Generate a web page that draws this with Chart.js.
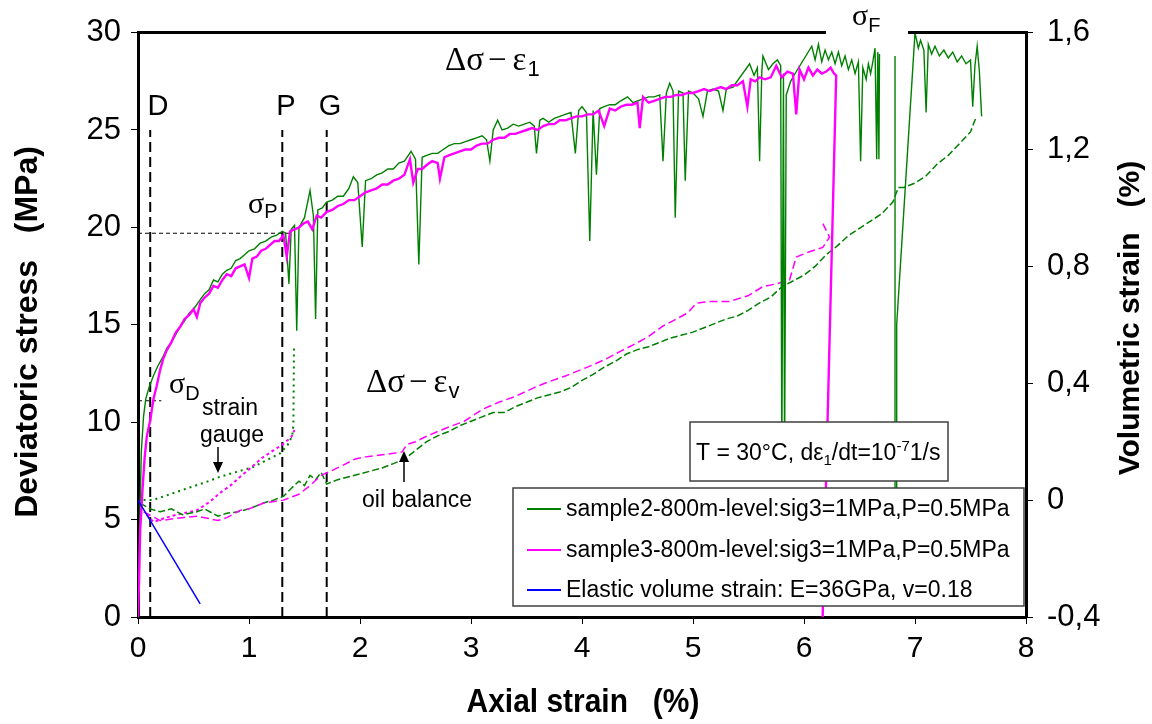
<!DOCTYPE html>
<html>
<head>
<meta charset="utf-8">
<script src="https://cdn.jsdelivr.net/npm/chart.js@4.4.1/dist/chart.umd.min.js"></script>
<style>
  html, body { margin: 0; padding: 0; background: #fff; }
  canvas { display: block; }
</style>
</head>
<body>
<canvas id="chart" width="1152" height="724"></canvas>
<script>
// axial strain (%) / deviatoric stress (MPa)
const sample2Stress = [
  [0,0],[0.01,3],[0.02,6],[0.03,8.5],[0.05,10.3],[0.07,11.2],[0.1,11.8],[0.14,12.4],[0.18,12.9],[0.22,13.3],
  [0.26,13.8],[0.3,14.1],[0.34,14.5],[0.38,14.9],[0.42,15.2],[0.46,15.6],[0.5,15.8],[0.55,16.2],[0.6,16.6],
  [0.64,16.8],[0.68,17.3],[0.72,17.2],[0.76,17.6],[0.8,17.8],[0.84,17.9],[0.88,18.3],[0.92,18.4],[0.96,18.6],
  [1.0,18.8],[1.05,18.9],[1.1,19.2],[1.15,19.3],[1.2,19.5],[1.25,19.6],[1.3,19.8],[1.33,19.7],[1.36,17.1],
  [1.38,19.9],[1.41,20.1],[1.43,14.7],[1.45,20.0],[1.5,20.5],[1.55,21.9],[1.58,20.6],[1.6,15.3],[1.62,20.9],
  [1.66,21.0],[1.7,21.3],[1.75,21.4],[1.8,21.6],[1.85,21.6],[1.9,22.0],[1.94,22.6],[1.98,22.3],[2.02,19.0],
  [2.05,22.4],[2.1,22.5],[2.15,22.7],[2.2,22.8],[2.25,23.0],[2.3,23.0],[2.35,23.3],[2.4,23.4],[2.46,23.9],
  [2.5,23.5],[2.53,18.1],[2.56,23.6],[2.6,23.7],[2.65,23.8],[2.7,23.8],[2.75,24.0],[2.8,24.2],[2.85,24.3],
  [2.9,24.3],[2.95,24.4],[3.0,24.5],[3.05,24.6],[3.1,24.7],[3.14,24.5],[3.17,23.4],[3.2,25.0],[3.24,25.5],
  [3.28,25.0],[3.33,25.1],[3.38,25.3],[3.43,25.2],[3.48,25.3],[3.53,25.4],[3.57,25.2],[3.59,23.8],[3.62,25.5],
  [3.65,25.6],[3.7,25.4],[3.75,25.6],[3.8,25.7],[3.85,25.8],[3.9,25.9],[3.94,23.8],[3.97,26.0],[4.0,26.2],
  [4.04,25.9],[4.07,19.3],[4.1,26.0],[4.13,22.7],[4.16,26.1],[4.2,26.2],[4.25,26.3],[4.3,26.3],[4.35,26.5],
  [4.41,26.7],[4.46,26.4],[4.5,26.5],[4.55,26.6],[4.6,26.7],[4.65,26.7],[4.7,26.8],[4.73,23.4],[4.76,26.9],
  [4.79,27.4],[4.82,27.0],[4.84,20.5],[4.87,27.0],[4.91,26.9],[4.93,22.4],[4.96,27.0],[5.0,26.9],[5.05,26.6],
  [5.09,25.7],[5.13,27.0],[5.18,27.1],[5.23,27.0],[5.27,26.0],[5.3,27.1],[5.36,27.2],[5.51,28.4],[5.55,27.8],
  [5.58,28.2],[5.6,23.4],[5.62,28.0],[5.63,28.8],[5.68,28.1],[5.72,28.4],[5.76,28.6],[5.79,28.3],[5.8,8.0],
  [5.815,27.9],[5.825,8.0],[5.84,26.8],[5.88,27.5],[5.92,27.9],[6.07,29.3],[6.1,28.6],[6.13,29.4],[6.16,28.5],
  [6.19,29.1],[6.22,28.6],[6.25,29.0],[6.28,28.4],[6.31,29.0],[6.34,28.3],[6.37,28.8],[6.4,28.1],[6.43,28.6],
  [6.46,27.9],[6.49,28.5],[6.51,23.4],[6.53,28.2],[6.56,27.6],[6.58,28.4],[6.6,27.9],[6.62,28.5],[6.64,29.2],
  [6.655,23.5],[6.665,29.0],[6.675,23.5],[6.68,28.9],[6.7,null],[6.82,28.8],[6.82,3],[6.83,3],[6.835,15],
  [7.0,30.0],[7.03,29.2],[7.05,29.6],[7.08,29.1],[7.1,25.9],[7.12,29.4],[7.15,28.9],[7.18,29.3],[7.22,28.8],
  [7.26,29.1],[7.3,28.7],[7.34,29.0],[7.38,28.5],[7.42,28.8],[7.46,28.4],[7.5,28.6],[7.52,26.2],[7.54,28.3],
  [7.56,29.3],[7.58,28.0],[7.6,25.7]
];
const sample3Stress = [
  [0,0],[0.01,2],[0.02,4.5],[0.04,6.5],[0.06,8.2],[0.08,9.3],[0.11,10.1],[0.14,11.2],[0.17,11.9],[0.2,12.7],
  [0.23,13.3],[0.26,13.7],[0.3,14.1],[0.34,14.6],[0.38,14.9],[0.42,15.3],[0.46,15.5],[0.5,15.8],[0.53,15.4],
  [0.56,16.1],[0.6,16.4],[0.64,16.6],[0.68,17.0],[0.72,16.9],[0.76,17.3],[0.8,17.6],[0.84,17.5],[0.88,17.9],
  [0.92,18.0],[0.96,18.1],[1.0,17.4],[1.03,18.4],[1.07,18.5],[1.11,18.8],[1.15,18.9],[1.19,19.1],[1.23,19.3],
  [1.27,19.3],[1.31,19.6],[1.34,18.5],[1.37,19.8],[1.41,19.9],[1.45,20.0],[1.49,20.2],[1.53,20.3],[1.57,19.9],
  [1.61,20.6],[1.65,20.5],[1.7,20.8],[1.75,20.9],[1.8,21.1],[1.85,21.2],[1.9,21.4],[1.95,21.4],[2.0,21.6],
  [2.05,21.8],[2.1,21.9],[2.15,22.0],[2.2,22.2],[2.25,22.2],[2.3,22.4],[2.35,22.5],[2.4,22.7],[2.45,23.5],
  [2.48,22.3],[2.52,23.0],[2.56,23.0],[2.6,23.2],[2.65,23.4],[2.7,23.3],[2.72,22.5],[2.76,23.6],[2.8,23.7],
  [2.85,23.8],[2.9,23.9],[2.95,24.0],[3.0,24.0],[3.05,24.2],[3.1,24.3],[3.15,24.3],[3.2,24.5],[3.25,24.6],
  [3.3,24.6],[3.35,24.8],[3.4,24.8],[3.45,24.9],[3.5,25.0],[3.55,25.1],[3.6,25.0],[3.65,25.2],[3.7,25.3],
  [3.75,25.3],[3.8,25.5],[3.85,25.5],[3.9,25.6],[3.95,25.7],[4.0,25.7],[4.05,25.8],[4.1,25.8],[4.15,26.0],
  [4.2,25.2],[4.25,26.1],[4.3,26.0],[4.35,26.2],[4.4,26.3],[4.45,26.3],[4.5,26.4],[4.52,25.1],[4.55,26.7],
  [4.6,26.4],[4.65,26.5],[4.7,26.6],[4.75,26.7],[4.8,26.7],[4.85,26.8],[4.9,26.8],[4.95,26.9],[5.0,26.9],
  [5.05,27.0],[5.1,27.1],[5.15,27.0],[5.2,27.1],[5.25,27.2],[5.3,27.1],[5.35,27.3],[5.4,27.3],[5.45,27.5],
  [5.49,26.2],[5.52,27.6],[5.56,27.5],[5.6,27.7],[5.65,27.6],[5.7,27.7],[5.75,28.3],[5.8,27.7],[5.85,28.0],
  [5.9,27.9],[5.93,25.8],[5.96,28.1],[6.0,27.6],[6.04,28.2],[6.08,27.8],[6.12,28.1],[6.16,27.9],[6.2,28.0],
  [6.24,28.2],[6.27,27.9],[6.29,27.8],[6.166,-0.5]
];
// axial strain (%) / volumetric strain (%)
const sample2OilBalance = [
  [0.02,-0.01],[0.11,-0.03],[0.2,-0.04],[0.3,-0.03],[0.4,-0.05],[0.53,-0.04],[0.6,-0.03],[0.72,-0.055],
  [0.8,-0.045],[0.9,-0.04],[1.0,-0.03],[1.13,-0.01],[1.22,0.0],[1.31,0.013],[1.38,0.04],[1.45,0.065],
  [1.5,0.05],[1.55,0.085],[1.6,0.07],[1.65,0.095],[1.7,0.055],[1.8,0.07],[1.9,0.08],[2.0,0.09],[2.1,0.1],
  [2.2,0.11],[2.3,0.125],[2.4,0.14],[2.5,0.17],[2.6,0.2],[2.7,0.22],[2.8,0.235],[2.9,0.255],[3.0,0.27],
  [3.1,0.285],[3.2,0.3],[3.3,0.3],[3.4,0.32],[3.5,0.335],[3.6,0.35],[3.7,0.36],[3.8,0.37],[3.9,0.385],
  [4.0,0.41],[4.1,0.43],[4.2,0.455],[4.3,0.475],[4.4,0.5],[4.5,0.515],[4.6,0.525],[4.7,0.54],[4.8,0.555],
  [4.9,0.565],[5.0,0.575],[5.1,0.59],[5.2,0.605],[5.3,0.62],[5.4,0.63],[5.5,0.65],[5.6,0.675],[5.7,0.695],
  [5.8,0.73],[5.9,0.75],[6.0,0.77],[6.1,0.8],[6.2,0.84],[6.3,0.87],[6.4,0.905],[6.5,0.93],[6.6,0.955],
  [6.7,0.98],[6.8,1.02],[6.85,1.07],[6.9,1.07],[7.0,1.085],[7.1,1.11],[7.2,1.15],[7.3,1.18],[7.4,1.22],
  [7.5,1.26],[7.55,1.31]
];
const sample3OilBalance = [
  [0.05,-0.04],[0.1,-0.05],[0.2,-0.07],[0.3,-0.065],[0.4,-0.06],[0.53,-0.055],[0.6,-0.06],[0.72,-0.07],
  [0.8,-0.06],[0.92,-0.035],[1.0,-0.03],[1.13,-0.01],[1.31,0.0],[1.45,0.02],[1.55,0.05],[1.65,0.085],
  [1.74,0.1],[1.85,0.12],[1.95,0.14],[2.05,0.148],[2.2,0.155],[2.3,0.16],[2.38,0.165],[2.42,0.19],[2.5,0.2],
  [2.58,0.215],[2.7,0.235],[2.8,0.25],[2.94,0.27],[3.1,0.31],[3.25,0.335],[3.4,0.355],[3.57,0.385],
  [3.7,0.405],[3.85,0.425],[4.06,0.457],[4.2,0.48],[4.35,0.51],[4.49,0.537],[4.6,0.56],[4.73,0.596],
  [4.85,0.62],[4.95,0.64],[5.03,0.674],[5.15,0.68],[5.33,0.68],[5.5,0.7],[5.63,0.731],[5.75,0.74],
  [5.87,0.754],[5.93,0.832],[6.05,0.85],[6.17,0.865],[6.23,0.9],[6.17,0.946]
];
const sample2Gauge = [
  [0.05,0.0],[0.13,0.0],[0.25,0.015],[0.44,0.04],[0.6,0.06],[0.74,0.08],[0.9,0.098],[1.03,0.112],
  [1.15,0.135],[1.28,0.16],[1.35,0.19],[1.39,0.22],[1.4,0.26],[1.405,0.52]
];
const sample3Gauge = [
  [0.08,-0.05],[0.14,-0.075],[0.25,-0.06],[0.35,-0.05],[0.53,-0.035],[0.65,-0.005],[0.74,0.025],
  [0.85,0.055],[0.92,0.08],[1.03,0.115],[1.12,0.145],[1.22,0.17],[1.3,0.19],[1.38,0.215],[1.41,0.24]
];
const elasticVolume = [[0,0],[0.56,-0.355]];

// characteristic points
const markerNames = ['D', 'P', 'G'];
const markerStrain = [0.11, 1.3, 1.7];
const markerTop = 25;
const sigmaPLevel = [[0,19.7],[1.37,19.7]];
const sigmaDLevel = [[0,11.1],[0.21,11.1]];

const legendLabels = [
  'sample2-800m-level:sig3=1MPa,P=0.5MPa',
  'sample3-800m-level:sig3=1MPa,P=0.5MPa',
  'Elastic volume strain: E=36GPa, v=0.18'
];

const xTicks = [0, 1, 2, 3, 4, 5, 6, 7, 8];
const stressTicks = [0, 5, 10, 15, 20, 25, 30];
const volTicks = [-0.4, 0, 0.4, 0.8, 1.2, 1.6];

const GREEN = '#008000';
const MAGENTA = '#ff00ff';
const BLUE = '#0000ff';
const SANS = '"Liberation Sans", Arial, sans-serif';
const SERIF = '"Liberation Serif", "Times New Roman", serif';

const pts = arr => arr.map(p => ({ x: p[0], y: p[1] }));

const line = (label, data, color, axis, extra) => Object.assign({
  label: label,
  data: pts(data),
  yAxisID: axis,
  borderColor: color,
  backgroundColor: color,
  borderWidth: 1.5,
  pointRadius: 0,
  showLine: true,
  fill: false,
  tension: 0,
  spanGaps: false
}, extra || {});

const datasets = [
  line(legendLabels[0], sample2Stress, GREEN, 'y', { borderWidth: 1.4, order: 3 }),
  line(legendLabels[1], sample3Stress, MAGENTA, 'y', { borderWidth: 2.4, order: 2 }),
  line(legendLabels[2], elasticVolume, BLUE, 'y2', { borderWidth: 1.5, order: 1 }),
  line('sample2 oil balance', sample2OilBalance, GREEN, 'y2', { borderDash: [7, 3], order: 5 }),
  line('sample3 oil balance', sample3OilBalance, MAGENTA, 'y2', { borderDash: [8, 4], order: 4 }),
  line('sample2 strain gauge', sample2Gauge, GREEN, 'y2', { borderDash: [2, 4], borderWidth: 2, order: 7 }),
  line('sample3 strain gauge', sample3Gauge, MAGENTA, 'y2', { borderDash: [3, 3], borderWidth: 2, order: 6 }),
  line('sigma P', sigmaPLevel, '#000', 'y', { borderDash: [4, 3], borderWidth: 1, order: 8 }),
  line('sigma D', sigmaDLevel, '#000', 'y', { borderDash: [4, 3], borderWidth: 1, order: 8 })
];
markerStrain.forEach((m, i) => {
  datasets.push(line(markerNames[i], [[m, 0], [m, markerTop]], '#000', 'y',
    { borderDash: [10, 5], borderWidth: 2, order: 9 }));
});

function drawRich(ctx, x, y, parts) {
  let cx = x;
  parts.forEach(p => {
    ctx.font = p.font;
    ctx.fillText(p.t, cx, y + (p.dy || 0));
    cx += ctx.measureText(p.t).width + (p.gap || 0);
  });
}

function arrow(ctx, x, y0, y1) {
  const dir = y1 > y0 ? 1 : -1;
  ctx.beginPath();
  ctx.moveTo(x, y0);
  ctx.lineTo(x, y1 - dir * 8);
  ctx.stroke();
  ctx.beginPath();
  ctx.moveTo(x, y1);
  ctx.lineTo(x - 5, y1 - dir * 11);
  ctx.lineTo(x + 5, y1 - dir * 11);
  ctx.closePath();
  ctx.fill();
}

const overlay = {
  id: 'overlay',
  afterDatasetsDraw(chart) {
    const ctx = chart.ctx;
    const a = chart.chartArea;
    ctx.save();
    ctx.fillStyle = '#000';
    ctx.textBaseline = 'alphabetic';

    // top frame with a gap for the failure label
    ctx.strokeStyle = '#000';
    ctx.lineWidth = 3;
    ctx.beginPath();
    ctx.moveTo(a.left - 1, a.top);
    ctx.lineTo(826, a.top);
    ctx.moveTo(908, a.top);
    ctx.lineTo(a.right + 1, a.top);
    ctx.stroke();

    // marker letters
    ctx.font = '29px ' + SANS;
    ctx.textAlign = 'center';
    const lx = [158, 286, 330];
    markerNames.forEach((n, i) => ctx.fillText(n, lx[i], 115));

    ctx.textAlign = 'left';
    drawRich(ctx, 445, 70, [
      { t: 'Δσ', font: '33px ' + SERIF, gap: 4 },
      { t: '−', font: '33px ' + SERIF, gap: 6 },
      { t: 'ε', font: '33px ' + SERIF, gap: 1 },
      { t: '1', font: '22px ' + SANS, dy: 6 }
    ]);
    drawRich(ctx, 366, 392, [
      { t: 'Δσ', font: '33px ' + SERIF, gap: 4 },
      { t: '−', font: '33px ' + SERIF, gap: 6 },
      { t: 'ε', font: '33px ' + SERIF, gap: 1 },
      { t: 'v', font: '22px ' + SANS, dy: 6 }
    ]);
    drawRich(ctx, 248, 213, [
      { t: 'σ', font: '30px ' + SERIF },
      { t: 'P', font: '20px ' + SANS, dy: 5 }
    ]);
    drawRich(ctx, 169, 393, [
      { t: 'σ', font: '30px ' + SERIF },
      { t: 'D', font: '20px ' + SANS, dy: 7 }
    ]);
    drawRich(ctx, 852, 25, [
      { t: 'σ', font: '30px ' + SERIF },
      { t: 'F', font: '20px ' + SANS, dy: 7 }
    ]);

    ctx.textAlign = 'center';
    ctx.font = '23px ' + SANS;
    ctx.fillText('strain', 230, 415);
    ctx.fillText('gauge', 232, 442);
    ctx.fillText('oil balance', 417, 507);

    ctx.lineWidth = 1.5;
    ctx.strokeStyle = '#000';
    arrow(ctx, 218, 447, 473);
    arrow(ctx, 404, 482, 451);

    // test condition box
    ctx.fillStyle = '#fff';
    ctx.fillRect(690, 422, 258, 59);
    ctx.strokeStyle = '#404040';
    ctx.lineWidth = 1.5;
    ctx.strokeRect(690, 422, 258, 59);
    ctx.fillStyle = '#000';
    ctx.textAlign = 'left';
    drawRich(ctx, 696, 460, [
      { t: 'T = 30°C, dε', font: '23px ' + SANS },
      { t: '1', font: '15px ' + SANS, dy: 5 },
      { t: '/dt=10', font: '23px ' + SANS },
      { t: '-7', font: '15px ' + SANS, dy: -9 },
      { t: '1/s', font: '23px ' + SANS }
    ]);

    // legend
    ctx.fillStyle = '#fff';
    ctx.fillRect(513, 488, 511, 118);
    ctx.strokeStyle = '#404040';
    ctx.strokeRect(513, 488, 511, 118);
    const rows = [509, 550, 590];
    chart.data.datasets.slice(0, 3).forEach((ds, i) => {
      ctx.strokeStyle = ds.borderColor;
      ctx.lineWidth = 2;
      ctx.beginPath();
      ctx.moveTo(527, rows[i]);
      ctx.lineTo(561, rows[i]);
      ctx.stroke();
      ctx.fillStyle = '#000';
      ctx.font = '23px ' + SANS;
      ctx.textBaseline = 'middle';
      ctx.fillText(ds.label, 566, rows[i] + 1);
    });
    ctx.textBaseline = 'alphabetic';

    // axis titles
    ctx.fillStyle = '#000';
    ctx.textAlign = 'center';
    ctx.textBaseline = 'middle';
    ctx.save();
    ctx.translate(583, 703);
    ctx.scale(0.88, 1);
    ctx.font = 'bold 34px ' + SANS;
    ctx.fillText('Axial strain   (%)', 0, 0);
    ctx.restore();
    ctx.font = 'bold 32px ' + SANS;
    ctx.save();
    ctx.translate(28, 332);
    ctx.rotate(-Math.PI / 2);
    ctx.fillText('Deviatoric stress   (MPa)', 0, 0);
    ctx.restore();
    ctx.font = 'bold 30px ' + SANS;
    ctx.save();
    ctx.translate(1131, 318);
    ctx.rotate(-Math.PI / 2);
    ctx.fillText('Volumetric strain   (%)', 0, 0);
    ctx.restore();

    ctx.restore();
  }
};

const axisGrid = { display: true, drawOnChartArea: false, drawTicks: true, tickLength: 7, color: '#000', lineWidth: 1 };
const axisBorder = { display: true, color: '#000', width: 3 };
const yTickFont = { family: SANS, size: 31 };
const xTickFont = { family: SANS, size: 30 };

new Chart(document.getElementById('chart'), {
  type: 'scatter',
  data: { datasets: datasets },
  options: {
    responsive: false,
    animation: false,
    events: [],
    layout: { padding: { top: 23, left: 0, right: 0, bottom: 0 } },
    plugins: { legend: { display: false }, tooltip: { enabled: false } },
    scales: {
      x: {
        type: 'linear', min: 0, max: 8,
        afterBuildTicks: s => { s.ticks = xTicks.map(v => ({ value: v })); },
        afterFit: s => { s.height = 107; },
        grid: axisGrid, border: axisBorder,
        ticks: { color: '#000', font: xTickFont, padding: 7, maxRotation: 0 }
      },
      y: {
        type: 'linear', position: 'left', min: 0, max: 30,
        afterBuildTicks: s => { s.ticks = stressTicks.map(v => ({ value: v })); },
        afterFit: s => { s.width = 138; },
        grid: axisGrid, border: axisBorder,
        ticks: { color: '#000', font: yTickFont, padding: 10 }
      },
      y2: {
        type: 'linear', position: 'right', min: -0.4, max: 1.6,
        afterBuildTicks: s => { s.ticks = volTicks.map(v => ({ value: v })); },
        afterFit: s => { s.width = 126; },
        grid: axisGrid, border: axisBorder,
        ticks: {
          color: '#000', font: yTickFont, padding: 14,
          callback: v => Math.abs(v) < 1e-9 ? '0' : v.toFixed(1).replace('.', ',')
        }
      }
    }
  },
  plugins: [overlay]
});
</script>
</body>
</html>
